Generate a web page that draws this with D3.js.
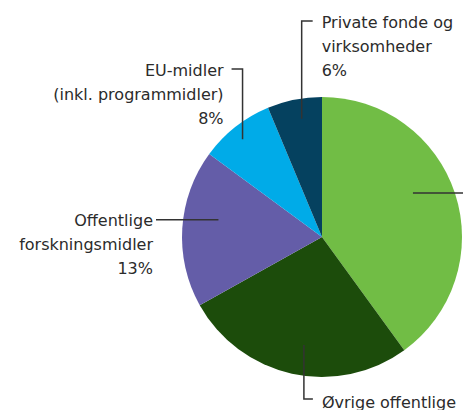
<!DOCTYPE html>
<html><head><meta charset="utf-8">
<script src="https://cdn.jsdelivr.net/npm/d3@7"></script>
<style>
html,body{margin:0;padding:0;background:#fff;overflow:hidden}
svg{display:block}
text{font-family:"DejaVu Sans",sans-serif;font-size:16px;fill:#2b2b2b}
</style></head>
<body>
<svg id="c" width="463" height="410"></svg>
<script>
// Data
const categories = ["(lysegrøn)", "Øvrige offentlige", "Offentlige forskningsmidler", "EU-midler (inkl. programmidler)", "Private fonde og virksomheder"];
const values = [40, 26.9, 18.2, 8.6, 6.3];
const labelLines = [
  [],
  ["Øvrige offentlige"],
  ["Offentlige", "forskningsmidler", "13%"],
  ["EU-midler", "(inkl. programmidler)", "8%"],
  ["Private fonde og", "virksomheder", "6%"]
];
const colors = ["#71bd45", "#1c4c0b", "#645da8", "#00abe8", "#05415f"];

const svg = d3.select("#c");
const cx = 322, cy = 237, R = 140;
const g = svg.append("g").attr("transform", `translate(${cx},${cy})`);

const pie = d3.pie().sort(null).value(d => d)(values);
const arc = d3.arc().innerRadius(0).outerRadius(R);

g.selectAll("path.slice").data(pie).join("path")
  .attr("class", "slice")
  .attr("d", arc)
  .attr("fill", (d, i) => colors[i]);

// label layout config
const lay = [
  {t: 0.446, r: 101, kind: "h", xEnd: 150},
  {t: 0.47, r: 109.5, kind: "down", y: 162, x2: 9},
  {t: 0.59, r: 105, kind: "h", xEnd: -166},
  {t: 0.47, r: 126, kind: "up", y: -168, x2: -11},
  {t: 0.57, r: 120, kind: "up", y: -216, x2: 11}
];

pie.forEach((d, i) => {
  const L = lay[i];
  const a = d.startAngle + (d.endAngle - d.startAngle) * L.t;
  const px = L.r * Math.sin(a), py = -L.r * Math.cos(a);
  let pts;
  if (L.kind === "h") pts = [[px, py], [L.xEnd, py]];
  else pts = [[px, py], [px, L.y], [px + L.x2, L.y]];
  g.append("path")
    .attr("d", d3.line()(pts))
    .attr("fill", "none").attr("stroke", "#333").attr("stroke-width", 1.5);

  const lines = labelLines[i];
  if (!lines.length) return;
  const end = pts[pts.length - 1];
  let anchor, tx;
  if (i === 2) { anchor = "end"; tx = end[0] - 3; }
  else if (i === 3) { anchor = "end"; tx = end[0] - 8; }
  else { anchor = "start"; tx = end[0] + 9; }
  const txt = g.append("text").attr("text-anchor", anchor);
  lines.forEach((s, k) => {
    txt.append("tspan").attr("x", tx).attr("y", end[1] + k * 24).attr("dy", i === 1 ? "0.55em" : "0.42em").text(s);
  });
});
</script>
</body></html>
